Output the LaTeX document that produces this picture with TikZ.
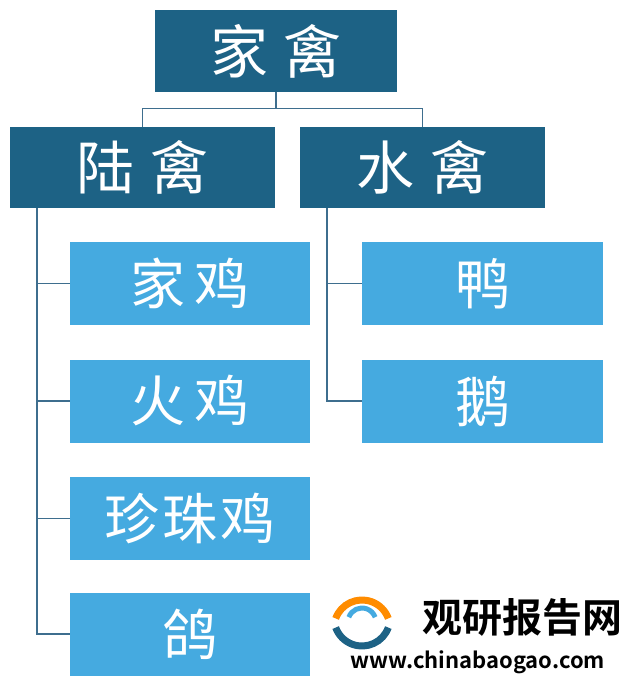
\documentclass[tikz,border=0pt]{standalone}
\usepackage{fontspec}
\newfontfamily\cjk{Noto Sans CJK SC}
\newfontfamily\cjkb{Noto Sans CJK SC Bold}
\definecolor{dk}{HTML}{1D6285}
\definecolor{lt}{HTML}{45AAE0}
\definecolor{ln}{HTML}{3E6E8E}
\newcommand{\gp}{\hspace{16pt}}
\newcommand{\gs}{\hspace{10pt}}
\begin{document}
\begin{tikzpicture}[x=1pt,y=-1pt,
  dbox/.style={fill=dk,draw=none,text=white,inner sep=0pt,font=\cjk\fontsize{58}{60}\selectfont},
  lbox/.style={fill=lt,draw=none,text=white,inner sep=0pt,font=\cjk\fontsize{55}{58}\selectfont},
  conn/.style={draw=ln,line width=1.2pt}]
\useasboundingbox (0,0) rectangle (640,690);
\fill[white] (0,0) rectangle (640,690);
\node[dbox,minimum width=242pt,minimum height=82pt] (top) at (276,51) {家\gp 禽};
\node[dbox,minimum width=265pt,minimum height=81pt] (land) at (142.5,167.5) {陆\gp 禽};
\node[dbox,minimum width=245pt,minimum height=81pt] (water) at (422.5,167.5) {水\gp 禽};
\node[lbox,minimum width=240pt,minimum height=83pt] (a) at (190,283.5) {家\gs 鸡};
\node[lbox,minimum width=240pt,minimum height=83pt] (b) at (190,401) {火\gs 鸡};
\node[lbox,minimum width=240pt,minimum height=83pt] (c) at (190,518.5) {珍\hspace{3pt}珠\hspace{3pt}鸡};
\node[lbox,minimum width=240pt,minimum height=83pt] (d) at (190,634) {鸽};
\node[lbox,minimum width=241pt,minimum height=83pt] (e) at (482.5,283.5) {鸭};
\node[lbox,minimum width=241pt,minimum height=83pt] (f) at (482.5,401) {鹅};
\coordinate (lx) at (37,208);
\coordinate (rx) at (327,208);
\draw[conn] (top.south) -- ++(0,16) -| (land.north);
\draw[conn] (top.south) -- ++(0,16) -| (water.north);
\draw[conn] (lx) |- (d.west);
\foreach \n in {a,b,c} \draw[conn] (lx |- \n.west) -- (\n.west);
\draw[conn] (rx) |- (f.west);
\draw[conn] (rx |- e.west) -- (e.west);
% watermark
\draw[line width=7pt,color=orange!90!yellow] (362,628) ++(200:28) arc (200:340:28);
\draw[line width=7pt,color=dk] (362,618) ++(20:28) arc (20:160:28);
\draw[line width=5pt,color=lt] (362,622) ++(200:14) arc (200:340:14);
\node[font=\cjkb\fontsize{40}{44}\selectfont,text=black] (wm) at (522,617) {观研报告网};
\node[font=\cjkb\fontsize{22}{26}\selectfont,text=black] (url) at (478,662) {www.chinabaogao.com};
\end{tikzpicture}
\end{document}
